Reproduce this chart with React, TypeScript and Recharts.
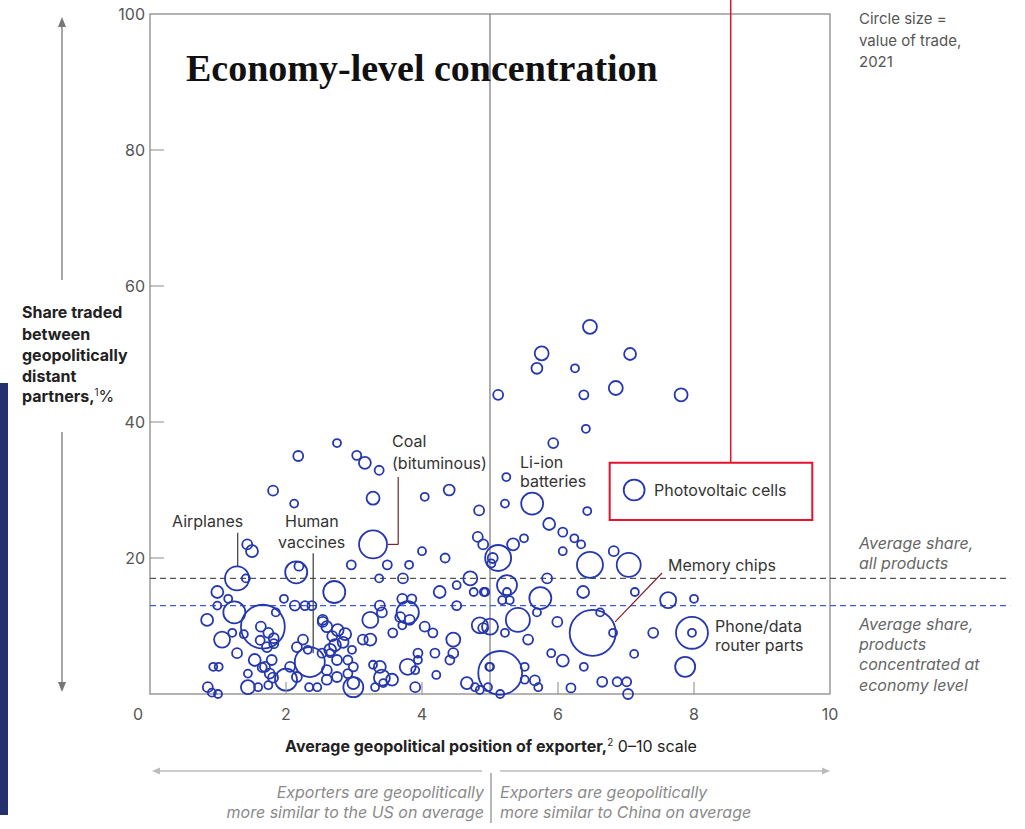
import React from 'react';
import {
  ScatterChart, Scatter, XAxis, YAxis, ZAxis, ReferenceLine, ReferenceArea,
} from 'recharts';

// [exporter position 0-10, share traded between distant partners %, trade value (relative)]
type Product = [number, number, number];

const xTicks = [0, 2, 4, 6, 8, 10];
const yTicks = [20, 40, 60, 80, 100];

const avgAllProducts = 17;
const avgConcentrated = 13;

const chinaHigh: Product[] = [
  [6.47, 54.0, 6.7], [5.76, 50.1, 6.7], [5.69, 47.9, 4.1], [6.25, 47.9, 2.2], [7.06, 50.0, 4.9],
  [6.85, 45.0, 6.7], [6.38, 44.0, 2.8], [5.12, 44.0, 3.4], [7.81, 44.0, 5.8], [6.41, 39.0, 2.2],
  [5.93, 36.9, 3.4], [5.24, 31.9, 2.2], [5.22, 28.0, 2.2], [5.62, 28.0, 16.6], [6.43, 26.9, 2.2],
  [7.12, 30.0, 15.0], [5.87, 25.0, 4.9],
];

const chinaMid: Product[] = [
  [6.07, 23.8, 2.8], [6.24, 22.9, 2.2], [6.34, 22.0, 2.2], [5.5, 22.9, 2.2], [5.34, 22.0, 4.9],
  [6.82, 21.0, 3.4], [6.07, 21.0, 2.2], [5.12, 20.0, 23.2], [5.04, 20.0, 3.4], [5.02, 19.2, 2.2],
  [6.47, 19.0, 23.2], [7.04, 19.0, 19.8], [5.25, 16.0, 13.7], [5.84, 17.0, 3.4], [4.93, 15.0, 2.2],
  [5.25, 15.0, 2.2], [5.18, 13.8, 2.2], [5.29, 13.8, 2.2], [5.74, 14.1, 16.6], [6.37, 15.0, 4.9],
  [7.13, 15.0, 2.2], [7.62, 13.8, 8.8], [8.0, 14.0, 2.2],
];

const chinaLow: Product[] = [
  [5.41, 10.9, 19.8], [5.69, 12.0, 2.2], [5.0, 9.9, 8.8], [4.9, 9.7, 3.4], [5.22, 9.0, 2.2],
  [5.56, 8.0, 3.4], [5.99, 10.6, 3.4], [6.51, 9.0, 72.6], [6.62, 12.0, 2.2], [6.81, 9.0, 2.2],
  [7.4, 9.0, 3.4], [7.12, 5.9, 2.2], [5.9, 6.0, 2.2], [6.07, 4.9, 4.9], [6.38, 4.0, 2.2],
  [6.65, 1.8, 3.4], [6.87, 1.8, 2.8], [7.01, 1.8, 2.8], [7.03, 0.0, 3.4], [6.19, 0.9, 2.8],
  [5.66, 2.0, 3.4], [5.71, 1.0, 2.2], [5.51, 4.0, 2.2], [5.51, 2.1, 2.2], [5.0, 4.0, 2.2],
  [5.15, 3.1, 66.0], [5.15, 0.0, 2.2], [4.97, 1.0, 2.2], [7.97, 9.0, 35.0], [7.97, 9.0, 2.2],
  [7.87, 4.0, 13.7],
];

const usHigh: Product[] = [
  [2.75, 36.9, 2.2], [2.18, 35.0, 3.4], [3.04, 35.1, 2.8], [3.16, 34.0, 4.9], [3.37, 32.9, 2.8],
  [1.81, 29.9, 3.4], [2.12, 28.0, 2.2], [3.28, 28.8, 5.8], [4.04, 29.0, 2.2], [4.4, 30.0, 4.1],
  [4.84, 27.0, 3.4], [1.43, 22.0, 3.4], [1.5, 21.0, 4.9], [3.28, 22.0, 26.9], [4.82, 23.1, 3.4],
  [4.9, 22.0, 3.4], [4.0, 21.0, 2.2], [4.34, 20.0, 2.8], [2.96, 19.0, 2.8], [3.49, 19.0, 2.8],
  [3.81, 19.0, 2.2], [1.28, 17.0, 19.8], [1.41, 17.0, 2.2], [2.15, 17.9, 16.6], [2.19, 18.8, 2.8],
  [3.37, 17.0, 2.2], [3.72, 17.0, 3.4], [4.71, 17.0, 6.7],
];

const usMid: Product[] = [
  [0.99, 15.0, 4.9], [1.15, 14.0, 2.2], [0.99, 13.0, 2.2], [1.24, 12.0, 16.6], [1.85, 12.0, 2.2],
  [1.97, 14.0, 2.2], [2.13, 13.0, 3.4], [2.28, 13.0, 2.8], [2.38, 13.0, 2.8], [2.71, 15.0, 16.6],
  [4.26, 15.0, 4.9], [4.51, 16.0, 2.2], [4.76, 15.0, 2.2], [4.91, 15.0, 2.2], [3.38, 13.0, 3.4],
  [3.71, 14.0, 3.4], [3.85, 14.0, 2.8], [3.79, 12.0, 17.0], [4.51, 13.0, 2.8], [2.54, 10.6, 3.4],
];

const usLow: Product[] = [
  [0.84, 10.9, 4.9], [1.66, 9.9, 66.0], [1.06, 8.0, 8.8], [1.21, 9.0, 2.2], [1.63, 9.9, 3.4],
  [1.74, 9.0, 3.4], [1.82, 8.2, 3.4], [1.82, 7.4, 2.8], [1.72, 6.9, 3.4], [1.62, 7.9, 2.8],
  [1.38, 8.8, 2.2], [1.28, 6.0, 3.4], [0.93, 4.0, 2.2], [1.01, 4.0, 2.2], [0.85, 1.0, 3.4],
  [0.91, 0.2, 2.2], [1.0, 0.0, 2.2], [1.44, 1.0, 6.7], [1.54, 5.0, 4.9], [1.59, 1.0, 2.2],
  [1.69, 4.0, 3.4], [1.76, 3.0, 3.4], [1.81, 2.4, 3.4], [1.65, 3.9, 2.8], [1.79, 5.0, 3.4],
  [1.44, 3.0, 2.2], [2.0, 2.1, 16.6], [2.06, 4.0, 3.4], [2.35, 4.7, 30.9], [2.16, 6.9, 3.4],
  [2.25, 8.0, 3.4], [2.32, 6.5, 2.2], [2.53, 6.0, 2.8], [2.65, 6.0, 2.2], [2.76, 9.4, 4.9],
  [2.87, 8.8, 4.9], [2.84, 7.6, 4.1], [2.72, 7.2, 4.9], [2.68, 8.5, 3.4], [2.6, 9.9, 4.1],
  [2.54, 10.9, 3.4], [2.65, 6.5, 4.9], [2.75, 5.0, 3.4], [2.6, 3.5, 3.4], [2.91, 5.0, 2.8],
  [2.99, 4.0, 2.8], [2.91, 3.0, 2.8], [2.75, 2.5, 3.4], [2.99, 1.6, 4.9], [2.6, 2.1, 3.4],
  [2.46, 1.0, 2.2], [2.16, 2.5, 3.4], [2.34, 1.0, 2.2], [1.74, 1.3, 2.2], [2.99, 1.0, 13.7],
  [2.97, 6.5, 2.2], [3.13, 8.0, 3.4], [3.24, 8.0, 4.9], [3.41, 2.4, 8.8], [3.24, 10.9, 8.8],
  [3.41, 12.0, 3.4], [3.68, 11.3, 3.4], [3.71, 10.1, 2.2], [3.57, 9.0, 2.8], [3.82, 10.9, 3.4],
  [4.04, 9.9, 3.4], [4.16, 9.0, 2.8], [4.85, 10.1, 8.8], [4.46, 8.0, 6.7], [4.46, 6.0, 3.4],
  [4.41, 5.0, 2.8], [4.19, 6.0, 2.8], [3.94, 6.0, 2.8], [3.79, 4.0, 8.8], [3.9, 3.5, 2.2],
  [3.94, 5.0, 2.2], [4.21, 2.8, 2.2], [3.38, 4.0, 4.9], [3.28, 4.3, 2.2], [3.56, 2.1, 4.9],
  [3.43, 1.6, 2.2], [3.31, 1.0, 2.2], [3.9, 1.0, 3.4], [4.66, 1.6, 4.9], [4.78, 1.0, 2.2],
  [4.85, 0.6, 2.2], [4.99, 4.0, 2.2],
];

const points = [...usLow, ...usMid, ...usHigh, ...chinaLow, ...chinaMid, ...chinaHigh]
  .map(([x, y, v]) => ({ x, y, v }));

const FONT = 'Inter, "Liberation Sans", Arial, sans-serif';
const BLUE = '#2638ad';
const RED = '#e3132f';
const LEADER = '#3a3a3a';
const MAROON = '#7a2330';

const XTick = (props: any) => {
  const { x, y, payload } = props;
  const v = payload.value;
  const inner = v > 0 && v < 10;
  return (
    <g>
      {inner && <line x1={x} y1={y} x2={x} y2={y - 12} stroke="#888" strokeWidth={1} />}
      <text x={v === 0 ? x - 12 : x} y={y + 26} textAnchor="middle" fontSize={16} fill="#555" fontFamily={FONT}>
        {v}
      </text>
    </g>
  );
};

const YTick = (props: any) => {
  const { x, y, payload } = props;
  const v = payload.value;
  return (
    <g>
      {v < 100 && <line x1={x} y1={y} x2={x + 14} y2={y} stroke="#888" strokeWidth={1} />}
      <text x={x - 5} y={y + 6} textAnchor="end" fontSize={16} fill="#555" fontFamily={FONT}>
        {v}
      </text>
    </g>
  );
};

const T = ({ x, y, children, italic, bold, anchor, fill, size }: any) => (
  <text
    x={x}
    y={y}
    fontFamily={FONT}
    fontSize={size || 16}
    fontStyle={italic ? 'italic' : 'normal'}
    fontWeight={bold ? 700 : 400}
    textAnchor={anchor || 'start'}
    fill={fill || '#333'}
  >
    {children}
  </text>
);

export default function App() {
  return (
    <div style={{ position: 'absolute', left: 0, top: 0, width: 1025, height: 829, background: '#fff' }}>
      <div style={{ position: 'absolute', left: 0, top: 0 }}>
        <ScatterChart width={1025} height={829} margin={{ top: 14, right: 195, bottom: 0, left: 0 }}>
          <XAxis
            type="number"
            dataKey="x"
            domain={[0, 10]}
            ticks={xTicks}
            height={135}
            axisLine={false}
            tickLine={false}
            tickSize={0}
            tickMargin={0}
            tick={<XTick />}
            interval={0}
          />
          <YAxis
            type="number"
            dataKey="y"
            domain={[0, 100]}
            ticks={yTicks}
            width={150}
            axisLine={false}
            tickLine={false}
            tickSize={0}
            tickMargin={0}
            tick={<YTick />}
            interval={0}
          />
          <ZAxis type="number" dataKey="v" domain={[0, 100]} range={[0, 2290]} />
          <ReferenceArea x1={0} x2={10} y1={0} y2={100} fill="none" fillOpacity={0} stroke="#9a9a9a" strokeWidth={1.5} />
          <ReferenceLine x={5} stroke="#777" strokeWidth={1.2} />
          <ReferenceLine
            segment={[{ x: 0, y: avgAllProducts }, { x: 12.65, y: avgAllProducts }]}
            stroke="#555"
            strokeDasharray="6 4"
            strokeWidth={1.3}
            ifOverflow="visible"
          />
          <ReferenceLine
            segment={[{ x: 0, y: avgConcentrated }, { x: 12.65, y: avgConcentrated }]}
            stroke="#3f5bd0"
            strokeDasharray="6 4"
            strokeWidth={1.3}
            ifOverflow="visible"
          />
          {/* leader lines for labelled products */}
          <ReferenceLine segment={[{ x: 1.29, y: 23.7 }, { x: 1.29, y: 18.7 }]} stroke={LEADER} strokeWidth={1.2} />
          <ReferenceLine segment={[{ x: 2.4, y: 20.7 }, { x: 2.4, y: 6.0 }]} stroke={LEADER} strokeWidth={1.2} />
          <ReferenceLine segment={[{ x: 3.5, y: 22 }, { x: 3.65, y: 22 }]} stroke={MAROON} strokeWidth={1.2} />
          <ReferenceLine segment={[{ x: 3.65, y: 22 }, { x: 3.65, y: 31.9 }]} stroke={MAROON} strokeWidth={1.2} />
          <ReferenceLine segment={[{ x: 6.84, y: 10.6 }, { x: 7.53, y: 17.8 }]} stroke={MAROON} strokeWidth={1.2} />
          {/* photovoltaic highlight */}
          <ReferenceArea x1={6.76} x2={9.74} y1={25.6} y2={34} fill="#fff" fillOpacity={1} stroke={RED} strokeWidth={2} />
          <ReferenceLine
            segment={[{ x: 8.54, y: 34 }, { x: 8.54, y: 102.2 }]}
            stroke={RED}
            strokeWidth={1.5}
            ifOverflow="visible"
          />
          <Scatter
            data={points}
            fill="none"
            stroke={BLUE}
            strokeWidth={1.8}
            isAnimationActive={false}
          />
        </ScatterChart>
      </div>
      <svg
        width={1025}
        height={829}
        style={{ position: 'absolute', left: 0, top: 0, pointerEvents: 'none' }}
      >
        <rect x={0} y={383} width={8} height={432} fill="#25306e" />
        <text x={186} y={81} fontFamily='"Liberation Serif", "Times New Roman", serif' fontWeight={700} fontSize={38} fill="#111">
          Economy-level concentration
        </text>

        {/* y axis arrows */}
        <line x1={62} y1={24} x2={62} y2={280} stroke="#777" strokeWidth={1.3} />
        <polygon points="62,17 58,27 66,27" fill="#777" />
        <line x1={62} y1={432} x2={62} y2={685} stroke="#777" strokeWidth={1.3} />
        <polygon points="62,692 58,682 66,682" fill="#777" />

        <T x={22} y={318} bold fill="#222">Share traded</T>
        <T x={22} y={340} bold fill="#222">between</T>
        <T x={22} y={361} bold fill="#222">geopolitically</T>
        <T x={22} y={382} bold fill="#222">distant</T>
        <text x={22} y={402} fontFamily={FONT} fontSize={16} fill="#222">
          <tspan fontWeight={700}>partners,</tspan>
          <tspan fontSize={10} dy={-6}>1</tspan>
          <tspan dy={6}>%</tspan>
        </text>

        <text x={491} y={752} textAnchor="middle" fontFamily={FONT} fontSize={16} fill="#222">
          <tspan fontWeight={700}>Average geopolitical position of exporter,</tspan>
          <tspan fontSize={10} dy={-6}>2</tspan>
          <tspan dy={6}> 0–10 scale</tspan>
        </text>

        {/* x direction arrows */}
        <line x1={158} y1={771} x2={482} y2={771} stroke="#bbb" strokeWidth={1.3} />
        <polygon points="152,771 160,767.5 160,774.5" fill="#bbb" />
        <line x1={500} y1={771} x2={824} y2={771} stroke="#bbb" strokeWidth={1.3} />
        <polygon points="830,771 822,767.5 822,774.5" fill="#bbb" />
        <line x1={491} y1={773} x2={491} y2={823} stroke="#888" strokeWidth={1.2} />

        <T x={484} y={798} italic anchor="end" fill="#8a8a8a">Exporters are geopolitically</T>
        <T x={484} y={818} italic anchor="end" fill="#8a8a8a">more similar to the US on average</T>
        <T x={500} y={798} italic fill="#8a8a8a">Exporters are geopolitically</T>
        <T x={500} y={818} italic fill="#8a8a8a">more similar to China on average</T>

        <T x={859} y={24} size={15} fill="#555">Circle size =</T>
        <T x={859} y={46} size={15} fill="#555">value of trade,</T>
        <T x={859} y={67} size={15} fill="#555">2021</T>

        <T x={859} y={549} italic fill="#666">Average share,</T>
        <T x={859} y={569} italic fill="#666">all products</T>
        <T x={859} y={630} italic fill="#666">Average share,</T>
        <T x={859} y={650} italic fill="#666">products</T>
        <T x={859} y={670} italic fill="#666">concentrated at</T>
        <T x={859} y={691} italic fill="#666">economy level</T>

        <T x={172} y={527}>Airplanes</T>
        <T x={285} y={527}>Human</T>
        <T x={278} y={548}>vaccines</T>
        <T x={392} y={447}>Coal</T>
        <T x={392} y={469}>(bituminous)</T>
        <T x={520} y={468}>Li-ion</T>
        <T x={520} y={487}>batteries</T>
        <T x={654} y={496}>Photovoltaic cells</T>
        <T x={668} y={571}>Memory chips</T>
        <T x={715} y={632}>Phone/data</T>
        <T x={715} y={651}>router parts</T>
      </svg>
    </div>
  );
}
